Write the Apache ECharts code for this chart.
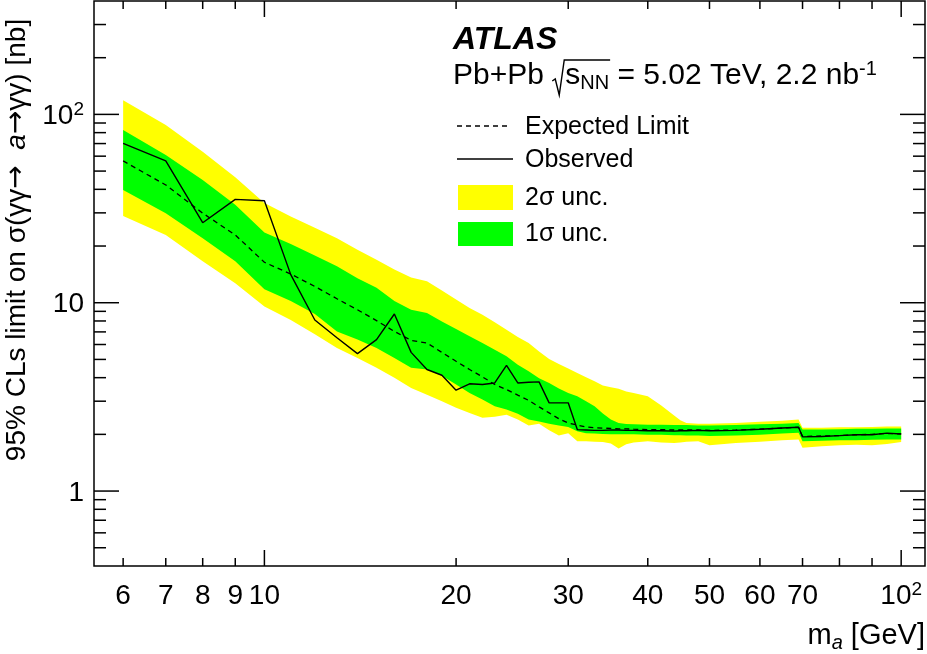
<!DOCTYPE html>
<html>
<head>
<meta charset="utf-8">
<script src="https://cdn.jsdelivr.net/npm/echarts@6/dist/echarts.min.js"></script>
<style>
  html, body { margin: 0; padding: 0; background: #fff; }
  #main { width: 927px; height: 654px; }
</style>
</head>
<body>
<div id="main"></div>
<script>
// mass points [GeV]
const masses = [6, 7, 8, 9, 10, 11, 12, 13, 14, 15, 16, 17, 18, 19, 20, 21, 22, 23, 24, 25,
  26, 27, 28, 29, 30, 31, 32, 33, 34, 35, 36, 37, 38, 40, 42, 44, 45, 46, 48, 50,
  55, 60, 65, 69, 70, 75, 80, 85, 90, 95, 100]

// limits [nb]
const observed = [70.2, 56.6, 26.6, 35.4, 34.8, 14.1, 8.1, 6.52, 5.37, 6.37,
  8.71, 5.45, 4.42, 4.12, 3.43, 3.71, 3.68, 3.75, 4.65, 3.75,
  3.78, 3.80, 2.94, 2.94, 2.94, 2.12, 2.11, 2.10, 2.10, 2.11,
  2.11, 2.10, 2.10, 2.09, 2.09, 2.08, 2.09, 2.09, 2.10, 2.09,
  2.10, 2.13, 2.16, 2.18, 1.94, 1.95, 1.97, 1.99, 1.99, 2.03, 2.01]
const expected = [56.6, 42.2, 29.9, 22.9, 16.4, 14.2, 12.2, 10.5, 9.18, 8.03,
  7.04, 6.31, 6.11, 5.45, 4.89, 4.42, 4.04, 3.68, 3.46, 3.23,
  3.03, 2.80, 2.60, 2.42, 2.30, 2.24, 2.19, 2.17, 2.16, 2.15,
  2.14, 2.14, 2.13, 2.12, 2.12, 2.11, 2.11, 2.11, 2.11, 2.10,
  2.11, 2.13, 2.16, 2.18, 1.95, 1.96, 1.97, 1.99, 2.00, 2.02, 2.01]
const oneSigmaHigh = [82.6, 60.9, 44.9, 33.1, 23.6, 20.5, 17.8, 15.6, 13.5, 12.0,
  10.2, 9.18, 8.82, 7.96, 7.26, 6.63, 6.11, 5.63, 5.19, 4.69,
  4.32, 3.97, 3.75, 3.50, 3.32, 3.19, 3.00, 2.82, 2.58, 2.40,
  2.30, 2.27, 2.26, 2.25, 2.25, 2.24, 2.24, 2.24, 2.23, 2.23,
  2.24, 2.26, 2.28, 2.30, 2.12, 2.12, 2.13, 2.14, 2.14, 2.15, 2.15]
const oneSigmaLow = [39.7, 29.9, 22.0, 16.6, 11.8, 10.2, 8.7, 7.04, 6.37, 5.75,
  5.09, 4.51, 4.42, 4.10, 3.68, 3.32, 3.06, 2.82, 2.71, 2.57,
  2.40, 2.34, 2.28, 2.23, 2.19, 2.08, 2.03, 2.02, 2.01, 2.00,
  2.00, 2.00, 2.00, 1.99, 1.99, 1.98, 1.98, 1.97, 1.97, 1.96,
  1.97, 1.99, 2.02, 2.04, 1.84, 1.85, 1.86, 1.86, 1.87, 1.88, 1.88]
const twoSigmaHigh = [119, 87.8, 63.4, 46.4, 33.8, 28.7, 25.0, 22.0, 19.1, 16.9,
  15.0, 13.6, 13.0, 11.6, 10.4, 9.37, 8.63, 7.87, 7.19, 6.58,
  6.11, 5.5, 5.03, 4.73, 4.47, 4.24, 4.02, 3.83, 3.63, 3.56,
  3.49, 3.38, 3.32, 3.19, 2.85, 2.52, 2.38, 2.30, 2.28, 2.28,
  2.30, 2.33, 2.36, 2.40, 2.17, 2.17, 2.18, 2.18, 2.19, 2.20, 2.20]
const twoSigmaLow = [28.9, 22.9, 16.6, 12.7, 9.56, 8.1, 6.8, 5.75, 5.09, 4.51,
  3.99, 3.53, 3.25, 3.00, 2.77, 2.60, 2.45, 2.48, 2.54, 2.40,
  2.23, 2.28, 2.10, 1.97, 2.03, 1.84, 1.84, 1.83, 1.82, 1.79,
  1.68, 1.77, 1.81, 1.84, 1.81, 1.80, 1.81, 1.83, 1.84, 1.75,
  1.80, 1.83, 1.86, 1.88, 1.70, 1.73, 1.75, 1.76, 1.75, 1.78, 1.82]

// axis ticks, ROOT style
const xTicks = [6, 7, 8, 9, 10, 20, 30, 40, 50, 60, 70, 80, 90, 100]
const xTickLabels = ['6', '7', '8', '9', '10', '20', '30', '40', '50', '60', '70', '', '', '10^2']
const xMajorTicks = [10, 100]
const yTicks = [0.5, 0.6, 0.7, 0.8, 0.9, 1, 2, 3, 4, 5, 6, 7, 8, 9,
  10, 20, 30, 40, 50, 60, 70, 80, 90, 100, 200, 300]
const yLabelValues = [1, 10, 100]
const yLabelTexts = ['1', '10', '10^2']
const yMajorTicks = [1, 10, 100]

const legendNames = ['Expected Limit', 'Observed', '2σ unc.', '1σ unc.']

const FONT = '"Liberation Sans", Arial, Helvetica, sans-serif'
const ARROW_FONT = '"DejaVu Sans", sans-serif'
const YELLOW = '#ffff00'
const GREEN = '#00ff00'
const tickStyle = { stroke: '#000', lineWidth: 1.5 }

const tickRich = {
  n: { fontSize: 28, lineHeight: 32, fontFamily: FONT, fill: '#000' },
  s: { fontSize: 19, lineHeight: 18, fontFamily: FONT, fill: '#000', verticalAlign: 'top' }
}

function tickText(s) {
  const p = s.split('^')
  return p.length > 1 ? '{n|' + p[0] + '}{s|' + p[1] + '}' : '{n|' + s + '}'
}

function measure(text, size) {
  const ctx = document.createElement('canvas').getContext('2d')
  ctx.font = size + 'px ' + FONT
  return ctx.measureText(text).width
}

// band drawn as one polygon: upper edge forward, lower edge back
function band(name, lo, hi, color) {
  return {
    name: name,
    type: 'custom',
    clip: true,
    silent: true,
    z: 1,
    itemStyle: { color: color },
    data: masses.map((m, i) => [m, lo[i], hi[i]]),
    encode: { x: 0, y: [1, 2] },
    renderItem: function (params, api) {
      if (params.dataIndex !== 0) return null
      const pts = []
      masses.forEach((m, i) => pts.push(api.coord([m, hi[i]])))
      for (let i = masses.length - 1; i >= 0; i--) pts.push(api.coord([masses[i], lo[i]]))
      return { type: 'polygon', shape: { points: pts }, style: { fill: color } }
    }
  }
}

const chart = echarts.init(document.getElementById('main'), null, { renderer: 'canvas' })

// header pieces
const headX = 453
const headSize = 30
const radX = headX + measure('Pb+Pb ', headSize)
const sX = radX + 13
const overEnd = sX + measure('s', headSize) + measure('NN', 20) + 1

chart.setOption({
  animation: false,
  backgroundColor: '#fff',
  grid: {
    left: 94, right: 2, top: 1, bottom: 88,
    show: true, borderColor: '#000', borderWidth: 1.5, backgroundColor: 'transparent'
  },
  xAxis: {
    type: 'log', logBase: 10, min: 5.4, max: 109,
    axisLine: { show: false }, axisTick: { show: false },
    axisLabel: { show: false }, splitLine: { show: false }
  },
  yAxis: {
    type: 'log', logBase: 10, min: 0.4, max: 400,
    axisLine: { show: false }, axisTick: { show: false },
    axisLabel: { show: false }, splitLine: { show: false }
  },
  series: [
    band('2σ unc.', twoSigmaLow, twoSigmaHigh, YELLOW),
    band('1σ unc.', oneSigmaLow, oneSigmaHigh, GREEN),
    {
      name: 'Expected Limit', type: 'line', z: 3, symbol: 'none', silent: true,
      data: masses.map((m, i) => [m, expected[i]]),
      lineStyle: { color: '#000', width: 1.3, type: [5, 4] }
    },
    {
      name: 'Observed', type: 'line', z: 4, symbol: 'none', silent: true,
      data: masses.map((m, i) => [m, observed[i]]),
      lineStyle: { color: '#000', width: 1.4 }
    },
    {
      name: 'xticks', type: 'custom', z: 6, clip: false, silent: true,
      data: xTicks.map(v => [v, 1]),
      renderItem: function (params, api) {
        const v = api.value(0)
        const cs = params.coordSys
        const x = api.coord([v, 1])[0]
        const len = xMajorTicks.indexOf(v) >= 0 ? 16 : 8
        const yb = cs.y + cs.height
        const yt = cs.y
        const label = xTickLabels[params.dataIndex]
        const children = [
          { type: 'line', shape: { x1: x, y1: yb, x2: x, y2: yb - len }, style: tickStyle },
          { type: 'line', shape: { x1: x, y1: yt, x2: x, y2: yt + len }, style: tickStyle }
        ]
        if (label) {
          children.push({
            type: 'text', x: x, y: yb + 14,
            style: { text: tickText(label), rich: tickRich, align: 'center', verticalAlign: 'top' }
          })
        }
        return { type: 'group', children: children }
      }
    },
    {
      name: 'yticks', type: 'custom', z: 6, clip: false, silent: true,
      data: yTicks.map(v => [10, v]),
      renderItem: function (params, api) {
        const v = api.value(1)
        const cs = params.coordSys
        const y = api.coord([10, v])[1]
        const len = yMajorTicks.indexOf(v) >= 0 ? 25 : 12
        const xl = cs.x
        const xr = cs.x + cs.width
        const children = [
          { type: 'line', shape: { x1: xl, y1: y, x2: xl + len, y2: y }, style: tickStyle },
          { type: 'line', shape: { x1: xr, y1: y, x2: xr - len, y2: y }, style: tickStyle }
        ]
        const li = yLabelValues.indexOf(v)
        if (li >= 0) {
          children.push({
            type: 'text', x: xl - 10, y: y + 2,
            style: { text: tickText(yLabelTexts[li]), rich: tickRich, align: 'right', verticalAlign: 'middle' }
          })
        }
        return { type: 'group', children: children }
      }
    }
  ],
  graphic: [
    // y-axis title
    {
      type: 'text', x: 17, y: 240, rotation: Math.PI / 2,
      style: {
        text: '{r|95% CLs limit on σ(γγ}{a|→}{r|  }{i|a}{a|→}{r|γγ) [nb]}',
        align: 'center', verticalAlign: 'middle',
        rich: {
          r: { fontSize: 28, lineHeight: 32, fontFamily: FONT, fill: '#000' },
          a: { fontSize: 28, lineHeight: 32, fontFamily: ARROW_FONT, fill: '#000' },
          i: { fontSize: 28, lineHeight: 32, fontFamily: FONT, fontStyle: 'italic', fill: '#000' }
        }
      }
    },
    // x-axis title
    {
      type: 'text', x: 925, y: 636,
      style: {
        text: '{r|m}{s|a}{r| [GeV]}',
        align: 'right', verticalAlign: 'middle',
        rich: {
          r: { fontSize: 29, lineHeight: 34, fontFamily: FONT, fill: '#000' },
          s: { fontSize: 20, lineHeight: 14, fontFamily: FONT, fontStyle: 'italic', fill: '#000', verticalAlign: 'bottom' }
        }
      }
    },
    // ATLAS label
    {
      type: 'text', x: headX, y: 40,
      style: {
        text: 'ATLAS', fontSize: 32, fontWeight: 'bold', fontStyle: 'italic',
        fontFamily: FONT, fill: '#000', verticalAlign: 'middle'
      }
    },
    {
      type: 'text', x: headX, y: 76,
      style: { text: 'Pb+Pb', fontSize: headSize, fontFamily: FONT, fill: '#000', verticalAlign: 'middle' }
    },
    {
      type: 'polyline',
      shape: { points: [[radX, 81], [radX + 3, 79], [radX + 7, 95], [radX + 12, 60], [overEnd, 60]] },
      style: { stroke: '#000', lineWidth: 1.4, fill: null }
    },
    {
      type: 'text', x: sX, y: 76,
      style: {
        text: '{t|s}{b|NN}{t| = 5.02 TeV, 2.2 nb}{p|-1}',
        verticalAlign: 'middle',
        rich: {
          t: { fontSize: headSize, lineHeight: 34, fontFamily: FONT, fill: '#000' },
          b: { fontSize: 20, lineHeight: 12, fontFamily: FONT, fill: '#000', verticalAlign: 'bottom' },
          p: { fontSize: 20, lineHeight: 18, fontFamily: FONT, fill: '#000', verticalAlign: 'top' }
        }
      }
    },
    // legend
    {
      type: 'line', shape: { x1: 457, y1: 126, x2: 510, y2: 126 },
      style: { stroke: '#000', lineWidth: 1.3, lineDash: [5, 4] }
    },
    {
      type: 'line', shape: { x1: 457, y1: 159, x2: 513, y2: 159 },
      style: { stroke: '#000', lineWidth: 1.3 }
    },
    { type: 'rect', shape: { x: 458, y: 185, width: 55, height: 25 }, style: { fill: YELLOW } },
    { type: 'rect', shape: { x: 458, y: 222, width: 55, height: 24 }, style: { fill: GREEN } },
    { type: 'text', x: 525, y: 127, style: { text: legendNames[0], fontSize: 25, fontFamily: FONT, fill: '#000', verticalAlign: 'middle' } },
    { type: 'text', x: 525, y: 160, style: { text: legendNames[1], fontSize: 25, fontFamily: FONT, fill: '#000', verticalAlign: 'middle' } },
    { type: 'text', x: 525, y: 198, style: { text: legendNames[2], fontSize: 25, fontFamily: FONT, fill: '#000', verticalAlign: 'middle' } },
    { type: 'text', x: 525, y: 234, style: { text: legendNames[3], fontSize: 25, fontFamily: FONT, fill: '#000', verticalAlign: 'middle' } }
  ]
})
</script>
</body>
</html>
